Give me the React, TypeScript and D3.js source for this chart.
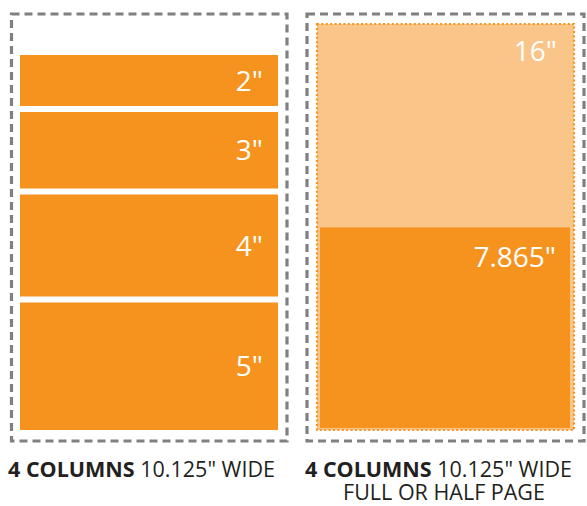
import React from "react";
import * as d3 from "d3";

// left panel: stacked ad heights (inches)
const columnHeights = [2, 3, 4, 5];
const columnLabels = ['2"', '3"', '4"', '5"'];
// right panel: full page and half page (inches)
const fullPageHeight = 16;
const halfPageHeight = 7.865;
const fullLabel = '16"';
const halfLabel = '7.865"';
const captionBold = "4 COLUMNS";
const captionRest = ' 10.125" WIDE';
const captionSub = "FULL OR HALF PAGE";

const ORANGE = "#f6921e";
const LIGHT = "#f9c589";
const GREY = "#808080";
const INK = "#231f20";

function App() {
  const width = 587;
  const height = 506;
  const baseY = 430;
  const gap = 6;

  const inch = d3.scaleLinear().domain([0, 16]).range([0, 408]);

  // stack left bars from the bottom, largest at the bottom
  const stacked: { y: number; h: number; label: string }[] = [];
  let cursor = baseY;
  for (let i = columnHeights.length - 1; i >= 0; i--) {
    const h = inch(columnHeights[i]);
    stacked.unshift({ y: cursor - h, h, label: columnLabels[i] });
    cursor = cursor - h - gap;
  }

  const fullTop = baseY - inch(fullPageHeight) + 2;
  const halfTop = baseY - inch(halfPageHeight) - 2;

  const labelStyle = {
    fontFamily: "'Open Sans', sans-serif",
    fontWeight: 400,
    fontSize: 28,
    fill: "#fff",
    textAnchor: "end" as const,
  };
  const capStyle = {
    fontFamily: "'Open Sans', sans-serif",
    fontSize: 21.5,
    fill: INK,
  };

  return (
    <svg
      width={width}
      height={height}
      style={{ position: "absolute", left: 0, top: 0, background: "#fff" }}
    >
      {/* left panel */}
      <rect
        x={11.5}
        y={14}
        width={275.5}
        height={427}
        fill="none"
        stroke={GREY}
        strokeWidth={3.2}
        strokeDasharray="8,5"
      />
      {stacked.map((d) => (
        <g key={d.label}>
          <rect x={20} y={d.y} width={258} height={d.h} fill={ORANGE} />
          <text x={263} y={d.y + d.h / 2 + 10} style={labelStyle}>
            {d.label}
          </text>
        </g>
      ))}

      {/* right panel */}
      <rect
        x={307}
        y={14}
        width={277}
        height={427}
        fill="none"
        stroke={GREY}
        strokeWidth={3.2}
        strokeDasharray="8,5"
      />
      <rect
        x={317}
        y={fullTop}
        width={257}
        height={baseY - fullTop}
        fill={LIGHT}
        stroke={ORANGE}
        strokeWidth={2.2}
        strokeDasharray="2,2.4"
      />
      <rect
        x={320}
        y={halfTop}
        width={250}
        height={baseY - 2 - halfTop}
        fill={ORANGE}
      />
      <text x={557} y={fullTop + 37} style={labelStyle}>
        {fullLabel}
      </text>
      <text x={556} y={halfTop + 40} style={labelStyle}>
        {halfLabel}
      </text>

      {/* captions */}
      <text x={8} y={477} style={capStyle}>
        <tspan fontWeight={700}>{captionBold}</tspan>
        <tspan>{captionRest}</tspan>
      </text>
      <text x={305} y={477} style={capStyle}>
        <tspan fontWeight={700}>{captionBold}</tspan>
        <tspan>{captionRest}</tspan>
      </text>
      <text x={444} y={500} style={{ ...capStyle, textAnchor: "middle" }}>
        {captionSub}
      </text>
    </svg>
  );
}

export default App;
